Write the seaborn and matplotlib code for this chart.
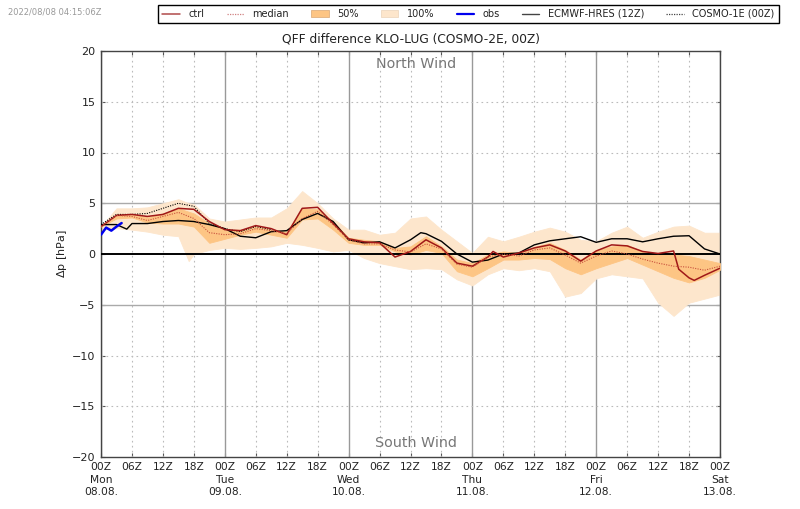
import matplotlib
matplotlib.use('Agg')
import matplotlib.pyplot as plt
import seaborn as sns
from matplotlib.patches import Patch
from matplotlib.lines import Line2D

# forecast hours, every 3h over 5 days
hours = list(range(0, 123, 3))

# the 100% band has one sharp dip at +17h, so it gets an extra point
hours_100 = [0, 3, 6, 9, 12, 15, 17, 18, 21, 24, 27, 30, 33, 36, 39, 42, 45, 48, 51, 54, 57, 60,
             63, 66, 69, 72, 75, 78, 81, 84, 87, 90, 93, 96, 99, 102, 105, 108, 111, 114, 117, 120]
max_100 = [2.7, 4.5, 4.5, 4.6, 5.0, 5.4, 5.0, 4.9, 3.5, 3.2, 3.4, 3.6, 3.6, 4.5, 6.2, 5.0, 3.5, 2.4, 2.4, 1.9, 2.1, 3.5,
           3.7, 2.4, 1.25, 0.1, 1.7, 1.25, 1.7, 2.2, 2.6, 2.2, 1.4, 1.25, 2.1, 2.7, 1.6, 2.2, 2.7, 2.8, 2.1, 2.1]
min_100 = [2.4, 2.55, 2.4, 2.2, 1.9, 1.75, -0.7, 0.0, 0.4, 0.6, 0.5, 0.6, 0.75, 1.1, 0.9, 0.6, 0.25, 0.4, -0.4, -0.9, -1.2, -1.5,
           -1.4, -1.5, -2.5, -3.1, -2.0, -1.4, -1.6, -1.4, -1.7, -4.2, -3.85, -2.4, -2.0, -2.2, -2.4, -4.8, -6.1, -4.8, -4.4, -4.0]
upper_50 = [2.7, 3.9, 3.9, 3.6, 4.0, 4.5, 4.0, 3.0, 2.4, 2.4, 2.7, 2.4, 2.2, 4.5, 4.4, 3.2, 1.6, 1.4, 1.25, 0.6, 0.75,
            1.75, 0.75, -0.55, -0.9, -0.05, 0.25, 0.1, 0.7, 1.1, 0.4, -0.55, 0.4, 0.75, 0.9, 0.25, 0.0, -0.05, -0.2, -0.55, -0.9]
lower_50 = [2.7, 3.5, 3.6, 3.1, 3.0, 3.0, 2.7, 1.1, 1.5, 1.9, 2.2, 1.9, 1.6, 3.4, 3.5, 2.4, 1.1, 0.9, 0.9, 0.25, -0.05,
            0.4, 0.1, -1.7, -2.2, -1.4, -0.55, -0.55, -0.4, -0.5, -1.4, -2.0, -1.4, -0.9, -0.4, -1.05, -1.7, -2.35, -2.8, -2.35, -1.55]
median = [2.7, 3.8, 3.7, 3.3, 3.7, 4.1, 3.5, 2.1, 1.9, 2.0, 2.5, 2.3, 2.0, 3.5, 4.2, 2.9, 1.4, 1.0, 1.0, 0.4, 0.2,
          1.0, 0.5, -1.0, -1.3, -0.3, 0.0, -0.2, 0.4, 0.6, -0.1, -0.9, -0.2, 0.3, 0.0, -0.5, -0.9, -1.2, -1.3, -1.6, -1.2]

ctrl_hours = [0, 3, 6, 9, 12, 15, 18, 21, 24, 27, 30, 33, 36, 39, 42, 45, 48, 51, 54, 57, 60,
              63, 66, 69, 72, 75, 76, 78, 81, 84, 87, 90, 93, 96, 99, 102, 105, 108, 111, 112, 114, 115, 117, 120]
ctrl = [2.7, 3.8, 3.9, 3.7, 3.9, 4.5, 4.4, 3.2, 2.4, 2.3, 2.8, 2.5, 1.9, 4.5, 4.6, 3.0, 1.5, 1.2, 1.1, -0.3, 0.25,
        1.4, 0.6, -0.9, -1.2, -0.3, 0.25, -0.3, 0.1, 0.6, 0.9, 0.3, -0.7, 0.3, 0.9, 0.8, 0.25, 0.05, 0.3, -1.5, -2.35, -2.6, -2.1, -1.4]

ecmwf_hours = [0, 3, 5, 6, 9, 12, 15, 18, 21, 24, 27, 30, 33, 36, 39, 42, 45, 48, 51, 54, 57, 60,
               62, 63, 66, 69, 72, 75, 78, 81, 84, 87, 90, 93, 96, 99, 102, 105, 108, 111, 114, 117, 120]
ecmwf = [2.9, 2.9, 2.45, 3.0, 3.0, 3.2, 3.3, 3.2, 2.9, 2.5, 1.75, 1.6, 2.2, 2.3, 3.4, 4.0, 3.2, 1.4, 1.1, 1.2, 0.6, 1.4,
         2.1, 2.0, 1.25, 0.0, -0.8, -0.6, 0.0, 0.1, 0.9, 1.3, 1.5, 1.7, 1.15, 1.5, 1.5, 1.2, 1.5, 1.75, 1.8, 0.5, 0.0]

cosmo1_hours = [0, 3, 6, 9, 12, 15, 18, 21, 24, 27, 30, 33]
cosmo1 = [2.9, 3.9, 3.9, 4.0, 4.5, 5.0, 4.7, 3.0, 2.5, 2.2, 2.7, 2.4]

obs_hours = [0, 1, 2, 3, 4]
obs = [1.9, 2.6, 2.3, 2.7, 3.05]

day_names = ['Mon', 'Tue', 'Wed', 'Thu', 'Fri', 'Sat']
day_dates = ['08.08.', '09.08.', '10.08.', '11.08.', '12.08.', '13.08.']
y_ticks = [-20, -15, -10, -5, 0, 5, 10, 15, 20]

sns.set_style('white')
plt.rcParams['font.family'] = ['DejaVu Sans']

fig = plt.figure(figsize=(8, 5.09), dpi=100)
ax = fig.add_axes([101 / 800, 1 - 457 / 509, 619 / 800, 406 / 509])

# grid first so everything sits on top
for h in range(0, 121, 6):
    if h % 24 == 0:
        ax.axvline(h, color='#999999', lw=1, zorder=1)
    else:
        ax.axvline(h, color='#bbbbbb', lw=0.8, ls=(0, (1.5, 3)), zorder=1)
for y in [-15, -10, 10, 15]:
    ax.axhline(y, color='#bbbbbb', lw=0.8, ls=(0, (1.5, 3)), zorder=1)
for y in [-5, 5]:
    ax.axhline(y, color='#aaaaaa', lw=1, zorder=1)

# lower_50/upper_50 live on the 3h grid
ax.fill_between(hours_100, min_100, max_100, color='#fde6cc', lw=0.6, zorder=2)
ax.fill_between(hours, lower_50, upper_50, color='#fdc584', lw=0.6, zorder=3)
ax.axhline(0, color='black', lw=1.4, zorder=4)

sns.lineplot(x=ctrl_hours, y=ctrl, color='#a01818', lw=1.1, ax=ax, zorder=6)
sns.lineplot(x=hours, y=median, color='#c8503c', lw=0.8, ls=(0, (1, 1.2)), ax=ax, zorder=6)
sns.lineplot(x=ecmwf_hours, y=ecmwf, color='black', lw=1, ax=ax, zorder=5)
sns.lineplot(x=cosmo1_hours, y=cosmo1, color='black', lw=0.8, ls=(0, (1, 1.2)), ax=ax, zorder=5)
sns.lineplot(x=obs_hours, y=obs, color='#0000ee', lw=1.8, ax=ax, zorder=7)

ax.set_xlim(0, 120)
ax.set_ylim(-20, 20)
ax.set_yticks(y_ticks)
xticks = list(range(0, 121, 6))
labels = []
for h in xticks:
    lab = '%02dZ' % (h % 24)
    if h % 24 == 0:
        lab += '\n' + day_names[h // 24] + '\n' + day_dates[h // 24]
    labels.append(lab)
ax.set_xticks(xticks)
ax.set_xticklabels(labels, fontsize=7.7, color='#222222', linespacing=1.33)
ax.tick_params(axis='y', labelsize=8, labelcolor='#222222', pad=4, direction='in', length=3, left=True, right=True, color='#555555')
ax.tick_params(axis='x', pad=3.5, direction='in', length=3, bottom=True, top=True, color='#555555')
for s in ax.spines.values():
    s.set_color('#444444')
    s.set_linewidth(1)

ax.set_xlabel('')
ax.set_ylabel(r'$\Delta$p [hPa]', fontsize=8, color='#222222', labelpad=2)
ax.set_title('QFF difference KLO-LUG (COSMO-2E, 00Z)', fontsize=8.8, color='#222222', pad=6)

ax.text(61, 18.7, 'North Wind', ha='center', va='center', fontsize=10.3, color='#777777')
ax.text(61, -18.6, 'South Wind', ha='center', va='center', fontsize=10.3, color='#777777')

fig.text(8 / 800, 1 - 12 / 509, '2022/08/08 04:15:06Z', fontsize=6, color='#999999', va='center')

handles = [
    Line2D([], [], color='#b04a4a', lw=1.1),
    Line2D([], [], color='#d08080', lw=0.9, ls=(0, (1, 1))),
    Patch(facecolor='#fdc584', edgecolor='#e0b080', lw=0.6),
    Patch(facecolor='#fde6cc', edgecolor='#eed8c0', lw=0.6),
    Line2D([], [], color='#0000ee', lw=1.6),
    Line2D([], [], color='#444444', lw=1),
    Line2D([], [], color='#444444', lw=0.9, ls=(0, (1, 1))),
]
names = ['ctrl', 'median', '50%', '100%', 'obs', 'ECMWF-HRES (12Z)', 'COSMO-1E (00Z)']
leg = fig.legend(handles, names, ncol=7, loc='center', bbox_to_anchor=(468.5 / 800, 1 - 14 / 509),
                 fontsize=7, frameon=True, fancybox=False, edgecolor='black', framealpha=1,
                 columnspacing=2.3, handlelength=1.8, handletextpad=0.85, borderpad=0.45, labelcolor='#222222')
leg.get_frame().set_linewidth(1)

fig.savefig('out.png', dpi=100)
